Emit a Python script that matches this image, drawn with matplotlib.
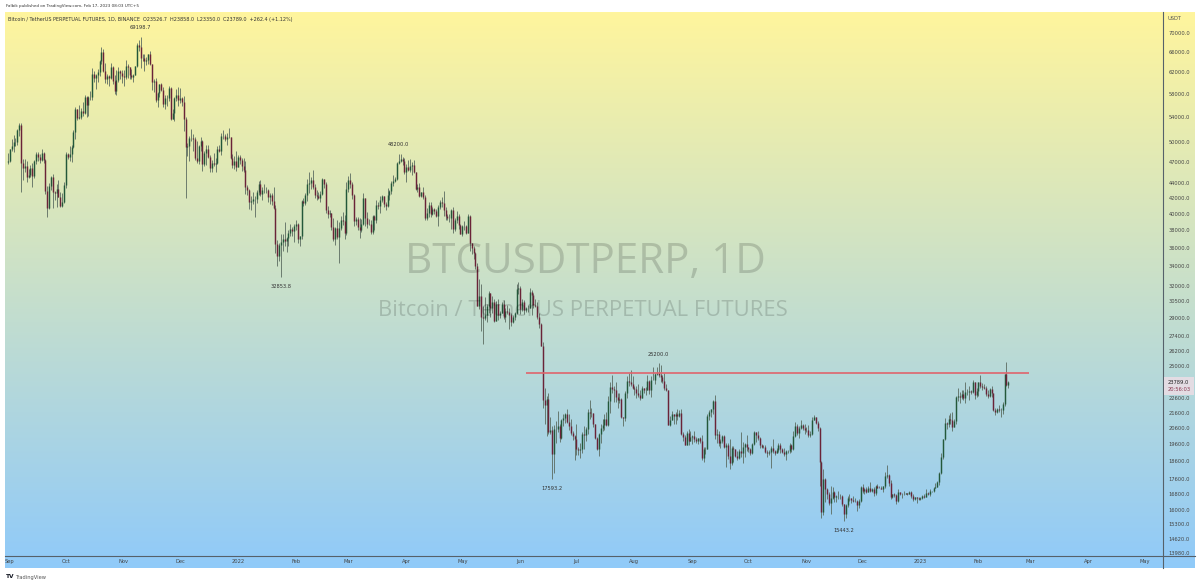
import numpy as np
import pandas as pd
import matplotlib
matplotlib.use("Agg")
import matplotlib.pyplot as plt
import matplotlib.dates as mdates
from matplotlib.colors import LinearSegmentedColormap
from matplotlib.ticker import NullLocator, FixedLocator, FixedFormatter
from matplotlib.lines import Line2D
from matplotlib.patches import Rectangle

# ---------------- data (daily candles, BTCUSDT perp, 1D) ----------------
start_date = "2021-08-31"
first_open = 46990

close = [
    47130,
    48830, 49280, 49940, 49920, 51790, 52690, 46860, 46070, 46400, 44850, 45160, 46030, 44960, 47110, 48140, 47760, 47300, 48310, 47250, 42960, 40700, 43560, 44890, 42840, 42700, 43210, 42170, 41030, 41520, 43790,
    48140, 47640, 48200, 49220, 51470, 55320, 53800, 53950, 54950, 54660, 57470, 56000, 57370, 57350, 61670, 60870, 61530, 62040, 64260, 65990, 62210, 60690, 61300, 60850, 63080, 60330, 58450, 60590, 62250, 61880, 61300,
    61000, 63220, 62940, 61440, 61010, 61530, 63300, 67550, 66940, 64880, 64810, 64160, 64400, 65500, 63560, 60090, 60360, 56890, 58050, 59710, 58620, 56250, 57270, 57180, 58960, 53720, 54720, 57270, 57790, 56950,
    57180, 56480, 53600, 49150, 49400, 50530, 50570, 50470, 47540, 47140, 49390, 50100, 46700, 48350, 48860, 47630, 46130, 46830, 46680, 46880, 48940, 48610, 50820, 50820, 50430, 50800, 50700, 47540, 46460, 47120, 46220,
    47720, 47290, 46430, 45830, 43430, 43080, 41550, 41680, 41860, 41820, 42730, 43900, 42560, 43080, 43070, 43090, 42200, 42370, 41660, 40680, 36450, 35070, 36280, 36670, 36960, 36820, 37160, 37710, 38170, 37920, 38480,
    38740, 36950, 37310, 41570, 41380, 42410, 43840, 44040, 44380, 43510, 42370, 42210, 42050, 42540, 44540, 43870, 40510, 39970, 40090, 38360, 37000, 38240, 37260, 38330, 39220, 39100, 37700, 43160,
    44420, 43920, 42450, 39140, 39400, 38420, 38060, 38730, 41940, 39430, 38730, 38810, 37780, 39670, 39290, 41120, 40920, 41770, 42250, 41260, 41000, 42360, 42890, 43990, 44310, 44510, 46820, 47130, 47430, 47060, 45510,
    46280, 45810, 46400, 46580, 45500, 43170, 43440, 42250, 42750, 42160, 39520, 40070, 41140, 39940, 40550, 40380, 39680, 40800, 41500, 41370, 40480, 39710, 39450, 39450, 40430, 38110, 39240, 39740, 38600, 37630,
    38470, 38530, 37720, 39690, 36550, 36010, 35470, 34040, 30090, 31010, 29080, 28930, 29280, 30070, 31300, 29860, 30420, 28690, 30300, 29200, 29430, 30280, 29100, 29650, 29540, 29200, 28630, 29020, 29450, 31720, 31790,
    29800, 30450, 29700, 29860, 29900, 31370, 31130, 30200, 30110, 29090, 28420, 26570, 22490, 22140, 22580, 20380, 20470, 19000, 20570, 20580, 20720, 19970, 21100, 21230, 21500, 21030, 20730, 20280, 20100, 19930,
    19300, 19250, 19300, 20230, 20190, 20550, 21630, 21590, 21590, 20850, 19960, 19330, 20230, 20590, 20830, 21200, 20790, 22430, 23400, 23230, 23150, 22680, 22450, 22580, 21310, 21250, 22950, 23850, 23780, 23640, 23300,
    23270, 22990, 22820, 22620, 23310, 23170, 23180, 23810, 23150, 23950, 23940, 24400, 24440, 24300, 24100, 23850, 23340, 23210, 20830, 21140, 21520, 21400, 21530, 21370, 21560, 20260, 20040, 19550, 20290, 19800, 20050,
    20130, 19950, 19830, 19990, 19800, 18790, 19290, 19320, 21370, 21650, 21830, 22400, 20180, 20240, 19700, 19800, 20110, 19420, 19540, 18880, 18480, 19400, 19290, 18920, 18800, 19220, 19080, 19410, 19590, 19420,
    19310, 19060, 19630, 20340, 20160, 19960, 19530, 19420, 19440, 19130, 19060, 19150, 19380, 19180, 19070, 19270, 19550, 19330, 19120, 19040, 19170, 19210, 19570, 19330, 20090, 20770, 20290, 20600, 20820, 20630, 20490,
    20480, 20150, 20210, 21150, 21300, 20910, 20600, 18540, 15880, 17590, 17070, 16810, 16330, 16620, 16900, 16660, 16690, 16700, 16700, 16280, 15780, 16230, 16600, 16600, 16520, 16460, 16440, 16220, 16440, 17170,
    16980, 17090, 16890, 17110, 16970, 17090, 16840, 17230, 17130, 17130, 17090, 17210, 17780, 17810, 17360, 16630, 16780, 16740, 16440, 16900, 16820, 16830, 16780, 16840, 16830, 16920, 16700, 16550, 16630, 16600, 16540,
    16620, 16680, 16670, 16850, 16830, 16950, 16940, 17130, 17180, 17440, 17940, 18850, 19930, 20950, 20870, 21180, 21130, 20680, 21080, 22670, 22780, 22710, 22920, 22630, 23060, 23010, 23080, 23030, 23740, 22830, 23130,
    23730, 23490, 23430, 23330, 22930, 22760, 23260, 22960, 21800, 21630, 21860, 21780, 21780, 22200, 24330, 23527, 23789,
]

high = [
    48250,
    48950, 50400, 51050, 50580, 51950, 52950, 52920, 47400, 47380, 47050, 45980, 46470, 46880, 47250, 48500, 48490, 48150, 48820, 48380, 47350, 43600, 44000, 44970, 45200, 42950, 43930, 44350, 42750, 42600, 44100,
    48480, 48350, 49300, 49500, 51900, 55750, 55300, 56100, 55450, 56500, 57800, 57600, 57650, 58500, 62900, 62300, 61700, 62650, 64450, 67000, 66700, 63700, 61750, 61500, 63700, 63300, 61450, 62450, 62950, 62350, 62400,
    62450, 64300, 63500, 63100, 62600, 61600, 63300, 67800, 68550, 69199, 65600, 65500, 65000, 65500, 66300, 63600, 60800, 60950, 58350, 59850, 60000, 59250, 57850, 57700, 59400, 59180, 55300, 57400, 58850, 59250,
    59050, 57350, 57600, 53900, 49750, 50850, 51950, 51150, 50800, 50100, 49500, 50750, 50300, 48650, 49500, 49450, 47980, 47300, 48300, 47500, 49300, 49550, 51350, 51850, 51150, 51300, 52100, 50700, 48150, 47900, 48550,
    47950, 47950, 47550, 47500, 47050, 43750, 43150, 42300, 42800, 42250, 43100, 44300, 44450, 43450, 43800, 43450, 43200, 42700, 42600, 43500, 41100, 36850, 36550, 37550, 37550, 38950, 37250, 38000, 38700, 38350, 38750,
    39250, 38850, 37400, 41700, 41950, 42650, 44500, 45500, 44800, 45850, 43900, 43050, 42750, 42900, 44750, 44550, 44200, 40950, 40500, 40150, 39500, 38450, 39250, 39000, 39700, 40250, 39850, 44200,
    44950, 45400, 44100, 42500, 39600, 39650, 39500, 39350, 42600, 41950, 40200, 39350, 39300, 39900, 39850, 41700, 41450, 42300, 42400, 42300, 41500, 43350, 43000, 44250, 45100, 44800, 46900, 48200, 48100, 47700, 47600,
    46700, 47200, 47450, 46900, 47200, 45500, 43900, 43950, 42800, 43400, 42400, 40700, 41550, 41450, 40850, 40700, 40600, 41100, 41750, 42200, 42950, 40800, 39950, 39950, 40600, 40800, 39450, 40350, 39950, 38800,
    38650, 39150, 38650, 40000, 39800, 36600, 36150, 35500, 34300, 32650, 32200, 30050, 30950, 30300, 31450, 31300, 31000, 30700, 30550, 30750, 29600, 30450, 30650, 29850, 30200, 29850, 29400, 29200, 29550, 32200, 32400,
    31950, 30700, 30650, 29950, 30150, 31750, 31550, 31350, 30700, 30400, 29450, 28550, 26900, 23350, 22750, 22950, 21350, 20750, 20800, 21050, 21700, 20850, 21200, 21550, 21600, 21850, 21500, 21200, 20400, 20150,
    20900, 19450, 19650, 20350, 20750, 20650, 21850, 22500, 21950, 21600, 20850, 20050, 20300, 20850, 21200, 21550, 21650, 22750, 23750, 24250, 23450, 23750, 22950, 23000, 22650, 21350, 23100, 24200, 24450, 24650, 24200,
    23500, 23450, 23650, 23200, 23450, 23350, 23400, 24250, 23950, 24200, 24900, 24450, 24900, 25200, 25050, 24250, 24450, 23600, 23200, 21400, 21700, 21550, 21650, 21850, 21800, 21850, 20350, 20150, 20400, 20550, 20450,
    20200, 20450, 20050, 20000, 20050, 20150, 19450, 19450, 21500, 21800, 21850, 22500, 22800, 20550, 20400, 19900, 20200, 20150, 19700, 19650, 19950, 19500, 19500, 19300, 19200, 19300, 20350, 19750, 19650, 20150,
    19450, 19400, 19700, 20450, 20350, 20450, 20050, 19600, 19550, 19550, 19250, 19250, 19500, 19950, 19250, 19400, 19700, 19700, 19350, 19350, 19250, 19250, 19700, 19600, 20400, 21000, 20850, 20750, 21100, 20900, 20850,
    20700, 20800, 20400, 21300, 21450, 21350, 21050, 20650, 18600, 18150, 17650, 17100, 16900, 17200, 17150, 16950, 16750, 16950, 16800, 16750, 16300, 16300, 16700, 16800, 16600, 16700, 16600, 16500, 16550, 17250,
    17350, 17100, 17150, 17200, 17450, 17100, 17150, 17300, 17350, 17200, 17250, 17250, 18000, 18400, 17850, 17550, 16800, 16850, 16800, 17050, 16900, 16850, 16950, 16850, 16850, 16950, 16950, 16800, 16650, 16650, 16650,
    16650, 16750, 16800, 17050, 16900, 17050, 16950, 17150, 17400, 17500, 18000, 19100, 19950, 21250, 21000, 21450, 21600, 21650, 21200, 22750, 23350, 23050, 23150, 23150, 23800, 23250, 23500, 23150, 23950, 23800, 23300,
    23800, 24250, 23700, 23600, 23450, 23150, 23350, 23450, 23000, 21950, 21900, 22100, 21900, 22350, 24400, 25250, 23858,
]

low = [
    46700,
    46970, 48600, 48370, 49400, 49500, 50950, 42800, 44400, 45550, 44200, 44750, 44780, 43400, 44700, 46700, 47050, 46750, 47050, 46850, 42500, 39600, 40600, 43050, 40700, 41700, 40800, 42100, 40900, 40800, 41400,
    43300, 47450, 47100, 46950, 49050, 50400, 53400, 53650, 53700, 54100, 54400, 53900, 54200, 56900, 56900, 60150, 58950, 60100, 61350, 63500, 62000, 60050, 59700, 59500, 60700, 59850, 58000, 57800, 60200, 60750, 60000,
    59450, 60650, 60950, 60700, 60750, 60150, 61400, 63100, 66300, 62800, 64100, 62300, 63400, 63600, 63400, 58600, 58400, 56500, 55600, 57400, 58450, 55600, 55350, 55850, 56800, 53500, 53650, 53250, 56700, 55900,
    56450, 55800, 51700, 42000, 47800, 47100, 50050, 48600, 47300, 46850, 46650, 48650, 45700, 46350, 46550, 47550, 45500, 45500, 46400, 45550, 46600, 48450, 47950, 50450, 50150, 49450, 50500, 47350, 46050, 45950, 45700,
    46200, 46700, 45700, 45500, 42500, 42400, 40600, 40500, 41200, 39650, 41300, 42450, 42300, 41750, 42600, 42600, 41550, 41250, 41100, 40550, 35450, 34000, 34600, 32854, 35700, 36250, 35500, 36150, 37350, 37350, 36650,
    38000, 36600, 36250, 36950, 40950, 41100, 41650, 42650, 43150, 43200, 42050, 41750, 41850, 41550, 42450, 43300, 40100, 39450, 39650, 38000, 36800, 36350, 37050, 34300, 38000, 38600, 37000, 37450,
    42800, 43350, 41850, 38550, 38650, 38100, 37150, 37850, 38650, 38550, 38250, 38650, 37600, 37550, 38100, 38900, 40550, 40150, 41500, 40900, 40500, 40900, 41800, 42550, 43600, 44100, 44400, 46650, 46950, 46500, 45200,
    44200, 45650, 45550, 45150, 45350, 43100, 42750, 42100, 42150, 41900, 39200, 39250, 39550, 39550, 39800, 40000, 39550, 38550, 40600, 40850, 39750, 39200, 39300, 38950, 38200, 37700, 37900, 38900, 38200, 37600,
    37400, 38100, 37550, 37700, 35600, 35300, 34800, 33700, 30050, 29750, 27800, 26700, 28750, 28600, 29450, 29100, 29450, 28650, 28700, 28750, 28950, 29450, 28850, 28600, 29300, 28000, 28250, 28550, 28800, 29300, 31200,
    29300, 29600, 29350, 29500, 29500, 29850, 29250, 29850, 29950, 28850, 28100, 26550, 21950, 20850, 20100, 20250, 20250, 17593, 17950, 19650, 20350, 19750, 19900, 20750, 20950, 20950, 20500, 20200, 19850, 18650,
    18950, 18950, 18800, 19050, 19300, 19800, 20250, 21200, 21350, 20650, 19900, 19250, 18900, 19650, 20400, 20500, 20750, 20750, 21600, 22950, 22350, 22350, 21950, 22300, 21250, 20750, 21050, 22600, 23450, 23500, 23250,
    22850, 22650, 22700, 22450, 22600, 22950, 22850, 23150, 22900, 22700, 23900, 23600, 24300, 24150, 23800, 23700, 23200, 23100, 20800, 20750, 21100, 20900, 20900, 21150, 21300, 20150, 19800, 19550, 19550, 19550, 19800,
    19600, 19750, 19650, 19600, 19650, 18650, 18550, 19000, 19300, 21100, 21350, 21550, 19900, 19650, 19500, 19350, 19700, 19350, 18250, 18750, 18150, 18400, 18550, 18850, 18650, 18700, 18850, 18500, 18850, 19200,
    19150, 18950, 19000, 19550, 19750, 19850, 19350, 19350, 19350, 19050, 18850, 18950, 18200, 19100, 18950, 19050, 19150, 19100, 19050, 18900, 18650, 19100, 19100, 19150, 19250, 20050, 20200, 20000, 20550, 20500, 20250,
    20350, 20050, 20050, 20200, 21100, 20900, 20400, 17200, 15600, 15750, 16400, 16550, 16250, 15800, 16550, 16400, 16400, 16550, 16550, 16200, 15443, 15600, 16150, 16450, 16350, 16400, 16400, 15950, 16100, 16400,
    16850, 16800, 16850, 16900, 16900, 16900, 16700, 16750, 17100, 17100, 17050, 16900, 17100, 17650, 17250, 16550, 16600, 16650, 16300, 16400, 16750, 16600, 16750, 16780, 16750, 16800, 16600, 16450, 16500, 16350, 16500,
    16500, 16550, 16600, 16650, 16750, 16700, 16900, 16900, 17100, 17150, 17300, 17900, 18700, 19850, 20550, 20650, 20850, 20400, 20650, 20850, 22400, 22300, 22550, 22450, 22300, 22850, 22500, 22900, 22980, 22550, 22700,
    22750, 23350, 23200, 23250, 22750, 22650, 22700, 22700, 21700, 21450, 21600, 21650, 21350, 21550, 22050, 23500, 23350,
]

# axis tick values / labels
price_ticks = [70000, 66000, 62000, 58000, 54000, 50000, 47000, 44000, 42000, 40000,
               38000, 36000, 34000, 32000, 30500, 29000, 27400, 26200, 25000, 22600,
               21600, 20600, 19600, 18600, 17600, 16800, 16000, 15300, 14620, 13980]
month_ticks = ["2021-09-01", "2021-10-01", "2021-11-01", "2021-12-01", "2022-01-01", "2022-02-01",
               "2022-03-01", "2022-04-01", "2022-05-01", "2022-06-01", "2022-07-01", "2022-08-01",
               "2022-09-01", "2022-10-01", "2022-11-01", "2022-12-01", "2023-01-01", "2023-02-01",
               "2023-03-01", "2023-04-01", "2023-05-01"]
month_labels = ["Sep", "Oct", "Nov", "Dec", "2022", "Feb", "Mar", "Apr", "May", "Jun", "Jul", "Aug",
                "Sep", "Oct", "Nov", "Dec", "2023", "Feb", "Mar", "Apr", "May"]

# high / low markers
hi_dates = ["2021-11-10", "2022-03-28", "2022-08-14"]
hi_vals = [69198.7, 48200.0, 25200.0]
lo_dates = ["2022-01-24", "2022-06-18", "2022-11-21"]
lo_vals = [32853.8, 17593.2, 15443.2]

# horizontal resistance line
level_price = 24450
level_from, level_to = "2022-06-04", "2023-02-28"

last_price = 23789.0
countdown = "20:56:03"

# ---------------- figure ----------------
W, H = 1200, 586
fig = plt.figure(figsize=(12, 5.86), dpi=100)
fig.patch.set_facecolor("white")


def fx(px):
    return px / W


def fy(py):
    return 1 - py / H


# gradient background
gax = fig.add_axes([fx(5), fy(568), fx(1195) - fx(5), fy(12) - fy(568)])
grad = np.linspace(0, 1, 256).reshape(-1, 1)
cmap = LinearSegmentedColormap.from_list("g", ["#FFF59D", "#90CAF9"])
gax.imshow(grad, aspect="auto", cmap=cmap, extent=[0, 1, 0, 1], origin="upper")
gax.axis("off")

ax = fig.add_axes([fx(5), fy(556), fx(1163) - fx(5), fy(12) - fy(556)])
ax.patch.set_alpha(0)
for s in ax.spines.values():
    s.set_visible(False)

n = min(len(close), len(high), len(low))
c = np.array(close[:n], dtype=float)
h = np.array(high[:n], dtype=float)
l = np.array(low[:n], dtype=float)
o = np.concatenate([[first_open], c[:-1]])
h = np.maximum(h, np.maximum(o, c))
l = np.minimum(l, np.minimum(o, c))
dates = pd.date_range(start_date, periods=n, freq="D")
x = mdates.date2num(dates)

up = c >= o
wick_col = "#5b6b60"
up_col = "#23583a"
dn_col = "#6a2338"
ax.vlines(x, l, h, color=wick_col, lw=0.6, zorder=2)
ax.vlines(x[up], o[up], c[up], color=up_col, lw=1.05, zorder=3)
ax.vlines(x[~up], c[~up], o[~up], color=dn_col, lw=1.05, zorder=3)

ax.set_yscale("log")
ax.set_ylim(13870, 74700)
t0 = mdates.date2num(pd.Timestamp("2022-01-01"))
ax.set_xlim(t0 - 124.6, t0 + 494.7)

ax.yaxis.tick_right()
ax.yaxis.set_major_locator(FixedLocator(price_ticks))
ax.yaxis.set_major_formatter(FixedFormatter([f"{v:.1f}" for v in price_ticks]))
ax.yaxis.set_minor_locator(NullLocator())
ax.tick_params(axis="y", length=0, pad=4, labelsize=3.7, labelcolor="#444444")

mt = [mdates.date2num(pd.Timestamp(d)) for d in month_ticks]
ax.xaxis.set_major_locator(FixedLocator(mt))
ax.xaxis.set_major_formatter(FixedFormatter(month_labels))
ax.xaxis.set_minor_locator(NullLocator())
ax.tick_params(axis="x", length=0, pad=2.2, labelsize=3.7, labelcolor="#444444")

# resistance line
ax.hlines(level_price, mdates.date2num(pd.Timestamp(level_from)),
          mdates.date2num(pd.Timestamp(level_to)), color="#e0646c", lw=1.2, zorder=4)

# high/low labels
for d, v in zip(hi_dates, hi_vals):
    ax.annotate(f"{v:.1f}", (mdates.date2num(pd.Timestamp(d)), v), xytext=(0, 6.3),
                textcoords="offset points", ha="center", va="center", fontsize=3.7, color="#333333")
for d, v in zip(lo_dates, lo_vals):
    ax.annotate(f"{v:.1f}", (mdates.date2num(pd.Timestamp(d)), v), xytext=(0, -6.8),
                textcoords="offset points", ha="center", va="center", fontsize=3.7, color="#333333")

# axis frame lines
fig.add_artist(Line2D([fx(1163), fx(1163)], [fy(12), fy(568)], color="#56616a", lw=0.8))
fig.add_artist(Line2D([fx(5), fx(1195)], [fy(556), fy(556)], color="#56616a", lw=0.8))

# last price box
fig.add_artist(Rectangle((fx(1164), fy(395)), fx(1194) - fx(1164), fy(377) - fy(395),
                         transform=fig.transFigure, facecolor="#e3dce3", edgecolor="none", zorder=5))
fig.text(fx(1168), fy(382.5), f"{last_price:.1f}", fontsize=3.7, color="#222222", va="center", zorder=6)
fig.text(fx(1168), fy(389.5), countdown, fontsize=3.7, color="#8a3850", va="center", zorder=6)

fig.text(fx(1168), fy(19), "USDT", fontsize=3.7, color="#555555", va="center")

# headers
fig.text(fx(6), fy(6), "Falbik published on TradingView.com, Feb 17, 2023 08:03 UTC+5",
         fontsize=2.95, color="#333333", va="center")
fig.text(fx(8), fy(19.5),
         "Bitcoin / TetherUS PERPETUAL FUTURES, 1D, BINANCE  O23526.7  H23858.0  L23350.0  C23789.0  +262.4 (+1.12%)",
         fontsize=3.55, color="#333333", va="center")

# watermark
fig.text(fx(585), fy(262), "BTCUSDTPERP, 1D", fontsize=30.3, family="Open Sans",
         color="black", alpha=0.16, ha="center", va="center")
fig.text(fx(583), fy(311), "Bitcoin / TetherUS PERPETUAL FUTURES", fontsize=15.8, family="Open Sans",
         color="black", alpha=0.16, ha="center", va="center")

# footer
fig.text(fx(6), fy(577), "TV", fontsize=4.2, weight="bold", color="#131722", va="center")
fig.text(fx(15), fy(577), "TradingView", fontsize=3.7, color="#555555", va="center")

fig.savefig("out.png", dpi=100, facecolor="white")
